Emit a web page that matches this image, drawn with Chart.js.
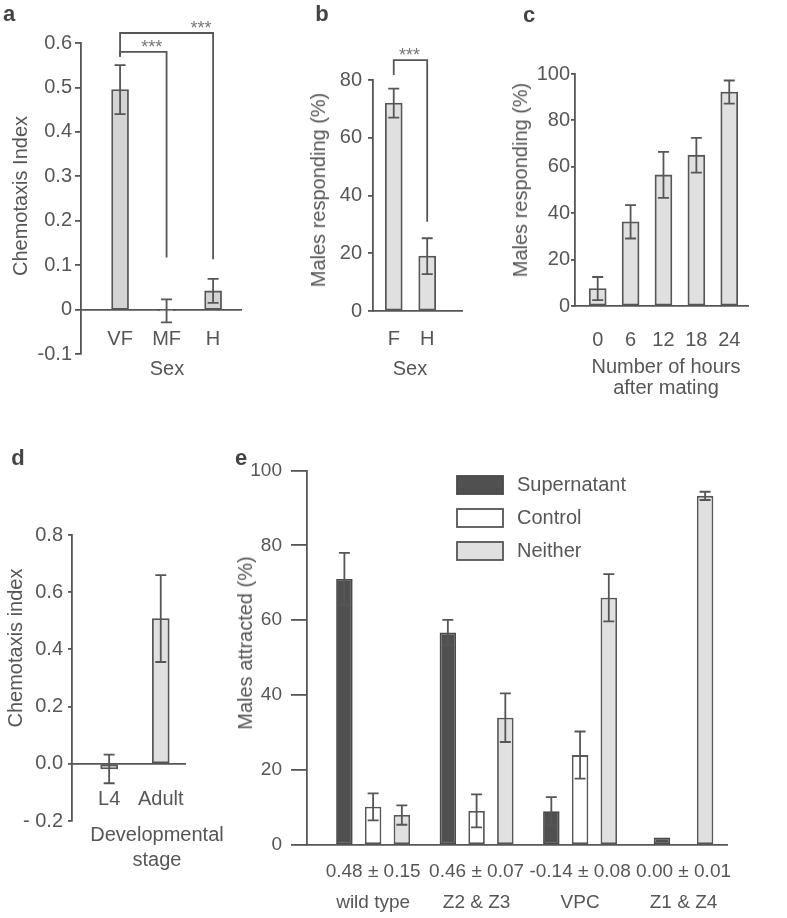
<!DOCTYPE html>
<html>
<head>
<meta charset="utf-8">
<script src="https://cdn.jsdelivr.net/npm/chart.js@4"></script>
<style>
  body { margin: 0; background: #fff; }
  #fig { position: relative; width: 787px; height: 918px; overflow: hidden;
         font-family: "Liberation Sans", Arial, Helvetica, sans-serif; color: #565656; }
  canvas { position: absolute; }
  .t { position: absolute; font-size: 20px; white-space: nowrap; text-align: center;
       line-height: 1; transform: translate(-50%, -50%); z-index: 2; }
  .rot { transform: translate(-50%, -50%) rotate(-90deg); }
  .pl { position: absolute; font-size: 22px; font-weight: bold; color: #444; line-height: 1;
        transform: translate(-50%, -50%); z-index: 2; }
</style>
</head>
<body>
<div id="fig">
  <canvas id="chartA" width="260" height="380" style="left:0;top:0"></canvas>
  <canvas id="chartB" width="210" height="380" style="left:260px;top:0"></canvas>
  <canvas id="chartC" width="327" height="420" style="left:460px;top:0"></canvas>
  <canvas id="chartD" width="230" height="468" style="left:0;top:450px"></canvas>
  <canvas id="chartE" width="567" height="468" style="left:220px;top:450px"></canvas>

  <div class="pl" style="left:9px;top:14px">a</div>
  <div class="pl" style="left:322px;top:14px">b</div>
  <div class="pl" style="left:529px;top:15px">c</div>
  <div class="pl" style="left:18px;top:458px">d</div>
  <div class="pl" style="left:241px;top:458px">e</div>

  <div class="t rot" style="left:20px;top:196px">Chemotaxis Index</div>
  <div class="t" style="left:167px;top:368px">Sex</div>
  <div class="t rot" style="left:318px;top:190px">Males responding (%)</div>
  <div class="t" style="left:410px;top:368px">Sex</div>
  <div class="t rot" style="left:520px;top:180px">Males responding (%)</div>
  <div class="t" style="left:666px;top:377px;line-height:21px">Number of hours<br>after mating</div>
  <div class="t rot" style="left:15px;top:648px">Chemotaxis index</div>
  <div class="t" style="left:157px;top:847px;line-height:25px">Developmental<br>stage</div>
  <div class="t rot" style="left:245px;top:643px">Males attracted (%)</div>
</div>

<script>
// a: chemotaxis index by sex
const sexA = ["VF", "MF", "H"];
const ciA = [0.495, -0.003, 0.042];
const ciErrA = [0.055, 0.026, 0.027];

// b: males responding, F vs H
const sexB = ["F", "H"];
const respB = [72, 19];
const respErrB = [5, 6.2];

// c: males responding vs hours after mating
const hoursC = ["0", "6", "12", "18", "24"];
const respC = [7.5, 36.3, 56.5, 65, 92.2];
const respErrC = [5, 7.2, 9.9, 7.5, 5];

// d: chemotaxis index by stage
const stageD = ["L4", "Adult"];
const ciD = [-0.018, 0.508];
const ciErrD = [0.05, 0.152];

// e: males attracted, per ablation
const groupsE = [["0.48 ± 0.15", "wild type"], ["0.46 ± 0.07", "Z2 & Z3"],
                 ["-0.14 ± 0.08", "VPC"], ["0.00 ± 0.01", "Z1 & Z4"]];
const seriesE = ["Supernatant", "Control", "Neither"];
const supE = [71, 56.7, 9, 2];
const supErrE = [7, 3.4, 3.8, null];
const ctrlE = [10.2, 9.1, 24, null];
const ctrlErrE = [3.6, 4.4, 6.3, null];
const neitherE = [8, 34, 66, 93.2];
const neitherErrE = [2.6, 6.5, 6.3, 1.1];

// significance brackets (values on the y scale, x in category units)
const sigA = [
  { from: 0, to: 2, top: 0.6225, left: 0.569, right: 0.113, starX: 1.74 },
  { from: 0, to: 1, top: 0.58, left: 0.569, right: 0.117, starX: 0.68 }
];
const sigB = [{ from: 0, to: 1, top: 86.9, left: 81.7, right: 30.9, starX: 0.47 }];

const INK = "#565656";
const FONT = '"Liberation Sans", Arial, Helvetica, sans-serif';
const LIGHT = "#e0e0e0";
const LW = 1.8;

Chart.defaults.font.family = FONT;
Chart.defaults.font.size = 20;
Chart.defaults.color = INK;
Chart.defaults.animation = false;
Chart.defaults.plugins.legend.display = false;
Chart.defaults.plugins.tooltip.enabled = false;

const errorBars = {
  id: "errorBars",
  afterDatasetsDraw(chart) {
    const ctx = chart.ctx, y = chart.scales.y;
    chart.data.datasets.forEach((ds, di) => {
      if (!ds.errors) return;
      chart.getDatasetMeta(di).data.forEach((bar, i) => {
        const v = ds.data[i].y, e = ds.errors[i];
        if (v == null || e == null) return;
        const top = y.getPixelForValue(v + e), bot = y.getPixelForValue(v - e);
        ctx.save();
        ctx.strokeStyle = INK;
        ctx.lineWidth = LW;
        ctx.beginPath();
        ctx.moveTo(bar.x, top); ctx.lineTo(bar.x, bot);
        ctx.moveTo(bar.x - 5.5, top); ctx.lineTo(bar.x + 5.5, top);
        ctx.moveTo(bar.x - 5.5, bot); ctx.lineTo(bar.x + 5.5, bot);
        ctx.stroke();
        ctx.restore();
      });
    });
  }
};

const brackets = {
  id: "brackets",
  afterDraw(chart, args, opts) {
    const { ctx, scales: { x, y } } = chart;
    ctx.save();
    ctx.strokeStyle = INK;
    ctx.lineWidth = LW;
    ctx.fillStyle = "#777";
    ctx.font = "18px " + FONT;
    ctx.textAlign = "center";
    ctx.textBaseline = "alphabetic";
    (opts.items || []).forEach(b => {
      const x0 = x.getPixelForValue(b.from), x1 = x.getPixelForValue(b.to);
      const yt = y.getPixelForValue(b.top);
      ctx.beginPath();
      ctx.moveTo(x0, y.getPixelForValue(b.left));
      ctx.lineTo(x0, yt);
      ctx.lineTo(x1, yt);
      ctx.lineTo(x1, y.getPixelForValue(b.right));
      ctx.stroke();
      ctx.fillText("***", x.getPixelForValue(b.starX), yt + 1);
    });
    ctx.restore();
  }
};

const boxLegend = {
  id: "boxLegend",
  afterDraw(chart, args, o) {
    const ctx = chart.ctx;
    ctx.save();
    ctx.font = "20px " + FONT;
    ctx.textBaseline = "middle";
    chart.data.datasets.forEach((ds, i) => {
      const cy = o.y + i * o.gap;
      ctx.fillStyle = ds.backgroundColor;
      ctx.strokeStyle = ds.borderColor;
      ctx.lineWidth = LW;
      ctx.fillRect(o.x, cy - o.h / 2, o.w, o.h);
      ctx.strokeRect(o.x, cy - o.h / 2, o.w, o.h);
      ctx.fillStyle = INK;
      ctx.fillText(ds.label, o.x + o.w + 14, cy);
    });
    ctx.restore();
  }
};

// category-like linear x axis; `height` is the band below the plot kept for labels
function xAxis(labels, min, max, pad, height, extra) {
  return Object.assign({
    type: "linear", min, max, offset: false,
    afterBuildTicks: s => { s.ticks = labels.map((_, i) => ({ value: i })); },
    afterFit: s => { s.height = height; },
    ticks: { autoSkip: false, maxRotation: 0, padding: pad, callback: v => labels[v] },
    grid: { drawOnChartArea: false, drawTicks: false },
    border: { color: INK, width: LW }
  }, extra || {});
}

function yAxis(min, max, step, fmt, tickLen, pad, width, fontSize) {
  return {
    min, max,
    ticks: { stepSize: step, padding: pad, callback: fmt, font: { size: fontSize || 20 } },
    grid: { drawOnChartArea: false, tickLength: tickLen, color: INK, lineWidth: LW },
    border: { color: INK, width: LW },
    afterFit: s => { s.width = width; }
  };
}

function bars(values, errors, fill) {
  return {
    data: values.map((v, i) => ({ x: i, y: v })),
    errors,
    backgroundColor: fill,
    borderColor: INK,
    borderWidth: LW,
    borderSkipped: false,
    barThickness: 17
  };
}

function makeChart(id, datasets, scales, padding, plugins, pluginOpts) {
  return new Chart(document.getElementById(id), {
    type: "bar",
    data: { datasets },
    options: {
      responsive: false,
      devicePixelRatio: 1,
      layout: { padding },
      scales,
      plugins: pluginOpts || {}
    },
    plugins
  });
}

const oneDec = v => Math.abs(v) < 1e-9 ? "0" : v.toFixed(1);

// a
makeChart("chartA", [bars(ciA, ciErrA, "#d4d4d4")], {
  x: xAxis(sexA, -0.84, 2.6, 18, 0, { position: { y: 0 } }),
  y: yAxis(-0.1, 0.6, 0.1, oneDec, 6, 3, 81)
}, { top: 43, bottom: 26, left: 0, right: 19 }, [errorBars, brackets], { brackets: { items: sigA } });

// b
makeChart("chartB", [bars(respB, respErrB, LIGHT)], {
  x: xAxis(sexB, -0.62, 2.04, 16, 69),
  y: yAxis(0, 80, 20, v => v, 5, 6, 113)
}, { top: 80, bottom: 0, left: 0, right: 8 }, [errorBars, brackets], { brackets: { items: sigB } });

// c
makeChart("chartC", [bars(respC, respErrC, LIGHT)], {
  x: xAxis(hoursC, -0.69, 4.57, 22, 114),
  y: yAxis(0, 100, 20, v => v, 4, 1, 115)
}, { top: 74, bottom: 0, left: 0, right: 39 }, [errorBars]);

// d
makeChart("chartD", [bars(ciD, ciErrD, LIGHT)], {
  x: xAxis(stageD, -0.72, 1.47, 24, 0, { position: { y: 0 } }),
  y: yAxis(-0.2, 0.8, 0.2, v => v < -1e-9 ? "- " + Math.abs(v).toFixed(1) : Math.abs(v).toFixed(1), 4, 5, 72)
}, { top: 85, bottom: 97, left: 0, right: 45 }, [errorBars]);

// e
const eSets = [
  [supE, supErrE, "#505050", "#4a4a4a"],
  [ctrlE, ctrlErrE, "#ffffff", INK],
  [neitherE, neitherErrE, LIGHT, INK]
].map(([vals, errs, fill, line], k) => ({
  label: seriesE[k],
  data: vals.map((v, i) => ({ x: i, y: v })),
  errors: errs,
  backgroundColor: fill,
  borderColor: line,
  borderWidth: LW,
  borderSkipped: false,
  categoryPercentage: 0.833,
  barPercentage: 0.575,
  maxBarThickness: 16.5,
  skipNull: true
}));

makeChart("chartE", eSets, {
  x: xAxis(groupsE, -0.639, 3.42, 11, 73, {
    ticks: { autoSkip: false, maxRotation: 0, padding: 11, callback: v => groupsE[v],
             font: { size: 19, lineHeight: 1.65 } }
  }),
  y: yAxis(0, 100, 20, v => v, 16, 9, 87, 19)
}, { top: 17, bottom: 0, left: 0, right: 60 }, [errorBars, boxLegend],
  { boxLegend: { x: 237, y: 35, w: 46, h: 18, gap: 33 } });
</script>
</body>
</html>
